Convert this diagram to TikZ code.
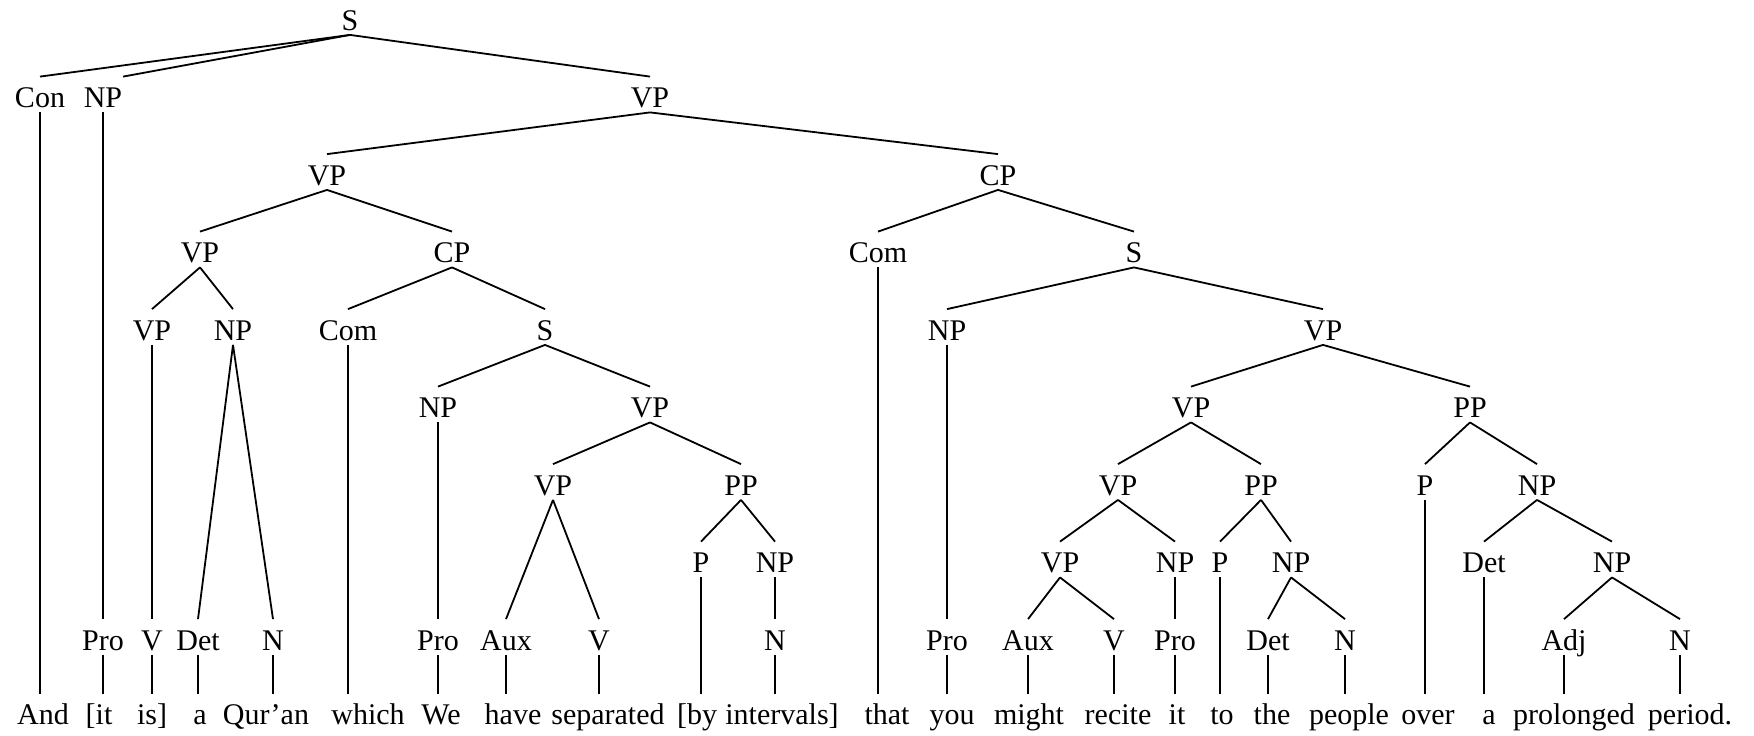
\documentclass[tikz,border=0pt]{standalone}
\usepackage{fontspec}
\setmainfont{Liberation Serif}
\tikzset{
  cat/.style={anchor=base, inner sep=0pt, text height=15pt, text depth=2pt,
    font=\fontsize{15}{18}\selectfont},
  word/.style={cat, text height=14.5pt},
}

\begin{document}
\begin{tikzpicture}[x=0.5pt,y=-0.5pt,line width=0.9pt]
  \useasboundingbox (0,0) rectangle (1754,735);

  % Top levels
  \node[cat] (s0) at (350,30) {S};
  \node[cat] (con1) at (40,107.5) {Con};
  \node[cat] (np1) at (103,107.5) {NP};
  \node[cat] (vp1) at (650,107.5) {VP};
  \node[cat] (vp2) at (327,185) {VP};
  \node[cat] (cp2) at (998,185) {CP};

  % Left half
  \node[cat] (vp3) at (200,262.5) {VP};
  \node[cat] (cp3) at (452,262.5) {CP};
  \node[cat] (vp4) at (152,340) {VP};
  \node[cat] (np4) at (233,340) {NP};
  \node[cat] (com4) at (348,340) {Com};
  \node[cat] (s4) at (545,340) {S};
  \node[cat] (np5) at (438,417.5) {NP};
  \node[cat] (vp5) at (650,417.5) {VP};
  \node[cat] (vp6) at (553,495) {VP};
  \node[cat] (pp6) at (741,495) {PP};
  \node[cat] (p7) at (701,572.5) {P};
  \node[cat] (np7) at (775,572.5) {NP};

  % Right half
  \node[cat] (com3) at (878,262.5) {Com};
  \node[cat] (s3) at (1134,262.5) {S};
  \node[cat] (np4b) at (947,340) {NP};
  \node[cat] (vp4b) at (1323,340) {VP};
  \node[cat] (vp5b) at (1191,417.5) {VP};
  \node[cat] (pp5) at (1470,417.5) {PP};
  \node[cat] (vp6b) at (1118,495) {VP};
  \node[cat] (pp6b) at (1261,495) {PP};
  \node[cat] (p6) at (1425,495) {P};
  \node[cat] (np6) at (1537,495) {NP};
  \node[cat] (vp7) at (1060,572.5) {VP};
  \node[cat] (np7b) at (1175,572.5) {NP};
  \node[cat] (p7b) at (1220,572.5) {P};
  \node[cat] (np7c) at (1291,572.5) {NP};
  \node[cat] (det7) at (1484,572.5) {Det};
  \node[cat] (np7d) at (1612,572.5) {NP};

  % Preterminals
  \foreach \n/\x/\t in {pro8/103/Pro, v8/152/V, det8/198/Det, n8/273/N,
      pro8b/438/Pro, aux8/506/Aux, v8b/599/V, n8b/775/N,
      pro8c/947/Pro, aux8b/1028/Aux, v8c/1114/V, pro8d/1175/Pro,
      det8b/1268/Det, n8c/1345/N, adj8/1564/Adj, n8d/1680/N}
    \node[cat] (\n) at (\x,650) {\t};

  % Words
  \foreach \n/\x/\w in {and/43/And, it/99/{[it}, is/152/{is]}, a/200/a,
      quran/266/Qur’an, which/368/which, we/441/We, have/513/have,
      separated/608/separated, by/697/{[by}, intervals/782/{intervals]},
      that/887/that, you/952/you, might/1029/might, recite/1118/recite,
      it2/1177/it, to/1222/to, the/1272/the, people/1349/people,
      over/1428/over, a2/1489/a, prolonged/1574/prolonged, period/1690/period.}
    \node[word] (\n) at (\x,724) {\w};

  % Branches
  \draw (s0.south) -- (np1.north east);
  \foreach \a/\b in {s0/con1, s0/vp1, vp1/vp2, vp1/cp2,
      vp2/vp3, vp2/cp3, vp3/vp4, vp3/np4, np4/det8, np4/n8,
      cp3/com4, cp3/s4, s4/np5, s4/vp5, vp5/vp6, vp5/pp6,
      vp6/aux8, vp6/v8b, pp6/p7, pp6/np7,
      cp2/com3, cp2/s3, s3/np4b, s3/vp4b, vp4b/vp5b, vp4b/pp5,
      vp5b/vp6b, vp5b/pp6b, vp6b/vp7, vp6b/np7b, vp7/aux8b, vp7/v8c,
      pp6b/p7b, pp6b/np7c, np7c/det8b, np7c/n8c,
      pp5/p6, pp5/np6, np6/det7, np6/np7d, np7d/adj8, np7d/n8d}
    \draw (\a.south) -- (\b.north);

  % Unary stems
  \foreach \a/\b in {con1/and, np1/pro8, pro8/it, vp4/v8, v8/is, det8/a,
      n8/quran, com4/which, np5/pro8b, pro8b/we, aux8/have, v8b/separated,
      p7/by, np7/n8b, n8b/intervals, com3/that, np4b/pro8c, pro8c/you,
      aux8b/might, v8c/recite, np7b/pro8d, pro8d/it2, p7b/to, det8b/the,
      n8c/people, p6/over, det7/a2, adj8/prolonged, n8d/period}
    \draw (\a.south) -- (\a.south |- \b.north);
\end{tikzpicture}
\end{document}
